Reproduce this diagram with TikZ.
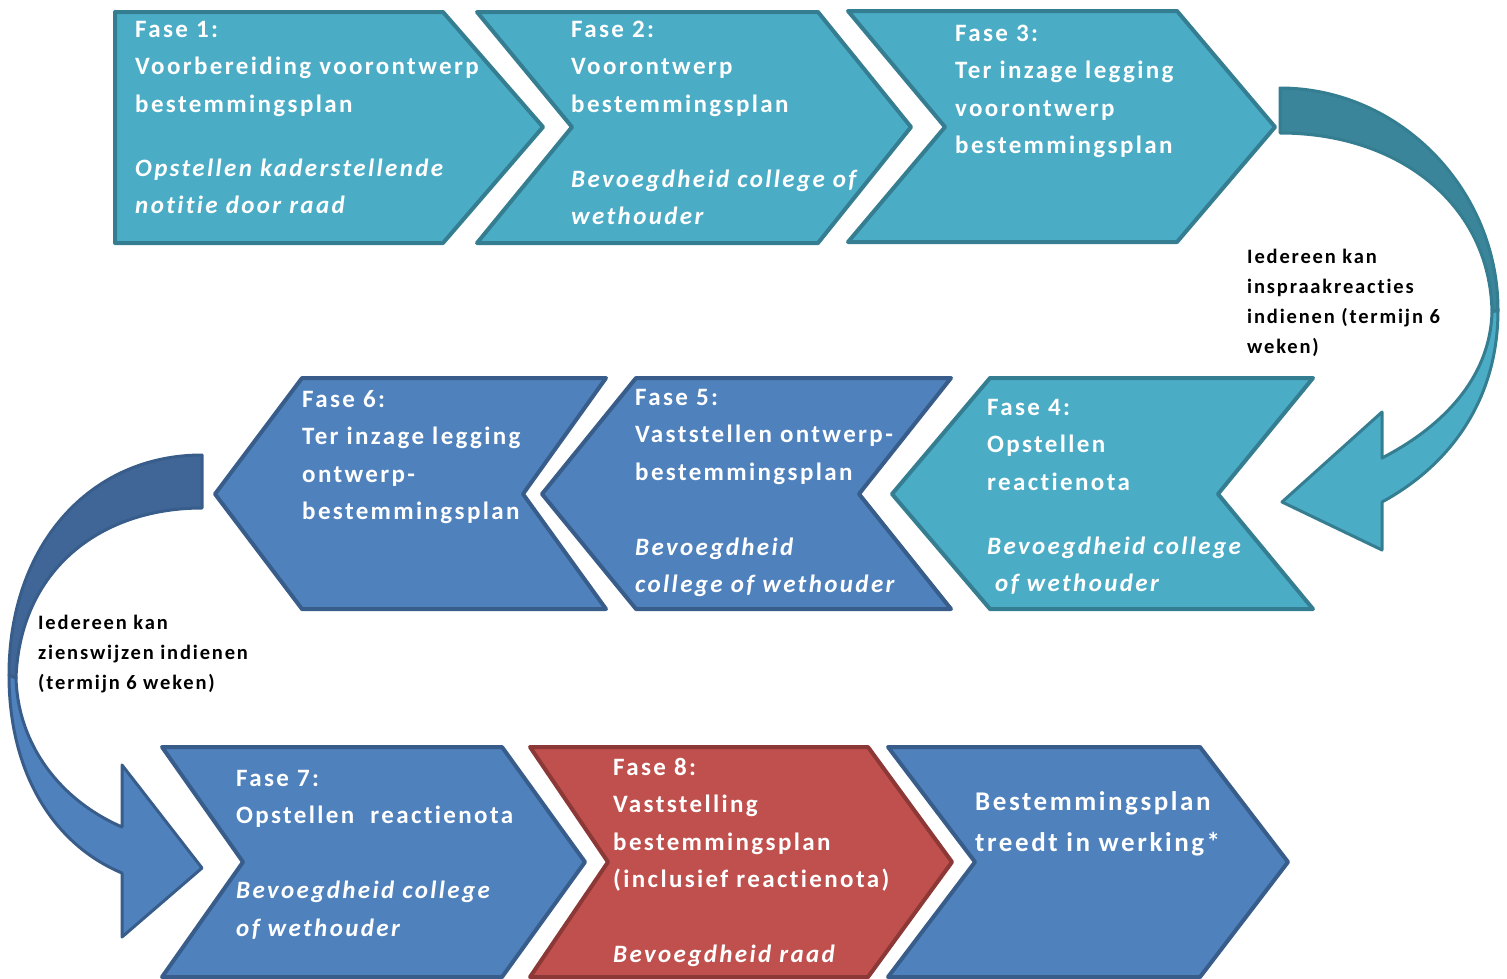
\documentclass[tikz,border=0pt]{standalone}
\usepackage{fontspec}
\setmainfont{Carlito}
\newfontfamily\boxfont{Carlito}[LetterSpace=9.5,Ligatures=NoCommon]
\newfontfamily\sidefont{Carlito}[LetterSpace=9,Ligatures=NoCommon]
\definecolor{tealF}{HTML}{4BACC6}
\definecolor{tealD}{HTML}{357D91}
\definecolor{tealB}{HTML}{3A8599}
\definecolor{blueF}{HTML}{4F81BD}
\definecolor{blueD}{HTML}{385D8A}
\definecolor{blueB}{HTML}{3F6696}
\definecolor{redF}{HTML}{C0504D}
\definecolor{redD}{HTML}{8C3836}
\newcommand\rtx[1]{\hbox{#1}}
\begin{document}
\begin{tikzpicture}[x=1pt,y=-1pt,
  tealshape/.style={fill=tealF,draw=tealD,line width=4pt,line join=round},
  blueshape/.style={fill=blueF,draw=blueD,line width=4pt,line join=round},
  redshape/.style={fill=redF,draw=redD,line width=4pt,line join=round},
  tealback/.style={fill=tealB,draw=tealD,line width=3pt,line join=round},
  blueback/.style={fill=blueB,draw=blueD,line width=3pt,line join=round},
  boxtext/.style={anchor=base west,inner sep=0pt,text=white,font=\boxfont\bfseries\fontsize{25}{37.5}\selectfont},
  bigtext/.style={anchor=base west,inner sep=0pt,text=white,font=\boxfont\bfseries\fontsize{27}{41}\selectfont},
  sidetext/.style={anchor=base west,inner sep=0pt,text=black,font=\sidefont\bfseries\fontsize{20.5}{30}\selectfont}]
\useasboundingbox (0,0) rectangle (1507,978);

% top row
\draw[tealshape] (115,12) -- (443,12) -- (543,127) -- (443,243) -- (115,243) -- cycle;
\draw[tealshape] (477,12) -- (818,12) -- (911,127) -- (818,243) -- (477,243) -- (572,127) -- cycle;
\draw[tealshape] (848,11) -- (1177,11) -- (1275,127) -- (1177,242) -- (848,242) -- (945,127) -- cycle;

% middle row
\draw[blueshape] (302,378) -- (606,378) -- (523,494) -- (606,609) -- (302,609) -- (215,494) -- cycle;
\draw[blueshape] (636,378) -- (951,378) -- (859,494) -- (951,609) -- (636,609) -- (542,494) -- cycle;
\draw[tealshape] (990,378) -- (1313,378) -- (1218,494) -- (1313,609) -- (990,609) -- (892,494) -- cycle;

% bottom row
\draw[blueshape] (162,747) -- (502,747) -- (585,862) -- (502,977) -- (162,977) -- (243,862) -- cycle;
\draw[redshape] (530,747) -- (868,747) -- (952,862) -- (868,977) -- (530,977) -- (608,862) -- cycle;
\draw[blueshape] (888,747) -- (1200,747) -- (1288,862) -- (1200,977) -- (888,977) -- (975,862) -- cycle;

% right curved arrow
\draw[tealback] (1280,88) .. controls (1400,88) and (1498,190) .. (1498,310)
  -- (1492,312) .. controls (1490,205) and (1400,133) .. (1280,133) -- cycle;
\draw[tealshape,line width=3pt] (1498,310) .. controls (1498,400) and (1450,465) .. (1382,502)
  -- (1382,550) -- (1282,502) -- (1382,412) -- (1382,458)
  .. controls (1440,428) and (1490,380) .. (1492,312) -- cycle;

% left curved arrow
\draw[blueback] (202,455) .. controls (90,455) and (9,545) .. (9,675)
  -- (16,678) .. controls (20,570) and (100,508) .. (202,508) -- cycle;
\draw[blueshape,line width=3pt] (9,675) .. controls (9,775) and (55,845) .. (122,873)
  -- (122,937) -- (202,868) -- (122,765) -- (122,827)
  .. controls (60,800) and (18,745) .. (16,678) -- cycle;

% texts
\node[boxtext] (t1) at (135,37) {\vtop{\rtx{Fase 1:}\rtx{Voorbereiding voorontwerp}\rtx{bestemmingsplan}\vskip26.5pt
  \rtx{\itshape Opstellen kaderstellende}\rtx{\itshape notitie door raad}}};
\node[boxtext] (t2) at (571,37) {\vtop{\rtx{Fase 2:}\rtx{Voorontwerp}\rtx{bestemmingsplan}\vskip37.5pt
  \rtx{\itshape Bevoegdheid college of}\rtx{\itshape wethouder}}};
\node[boxtext] (t3) at (955,41) {\vtop{\rtx{Fase 3:}\rtx{Ter inzage legging}\rtx{voorontwerp}\rtx{bestemmingsplan}}};
\node[boxtext] (t6) at (302,407) {\vtop{\rtx{Fase 6:}\rtx{Ter inzage legging}\rtx{ontwerp-}\rtx{bestemmingsplan}}};
\node[boxtext] (t5) at (635,405) {\vtop{\rtx{Fase 5:}\rtx{Vaststellen ontwerp-}\rtx{bestemmingsplan}\vskip37.5pt
  \rtx{\itshape Bevoegdheid}\rtx{\itshape college of wethouder}}};
\node[boxtext] (t4) at (987,415) {\vtop{\rtx{Fase 4:}\rtx{Opstellen}\rtx{reactienota}\vskip26.5pt
  \rtx{\itshape Bevoegdheid college}\rtx{\itshape\hspace{8pt}of wethouder}}};
\node[boxtext] (t7) at (236,786) {\vtop{\rtx{Fase 7:}\rtx{Opstellen\ \ reactienota}\vskip37.5pt
  \rtx{\itshape Bevoegdheid college}\rtx{\itshape of wethouder}}};
\node[boxtext] (t8) at (613,775) {\vtop{\rtx{Fase 8:}\rtx{Vaststelling}\rtx{bestemmingsplan}\rtx{(inclusief reactienota)}\vskip37.5pt
  \rtx{\itshape Bevoegdheid raad}}};
\node[bigtext] (t9) at (975,810) {\vtop{\rtx{Bestemmingsplan}\rtx{treedt in werking*}}};

\node[sidetext] (s1) at (1247,263) {\vtop{\rtx{Iedereen kan}\rtx{inspraakreacties}\rtx{indienen (termijn 6}\rtx{weken)}}};
\node[sidetext] (s2) at (38,629) {\vtop{\rtx{Iedereen kan}\rtx{zienswijzen indienen}\rtx{(termijn 6 weken)}}};
\end{tikzpicture}
\end{document}
